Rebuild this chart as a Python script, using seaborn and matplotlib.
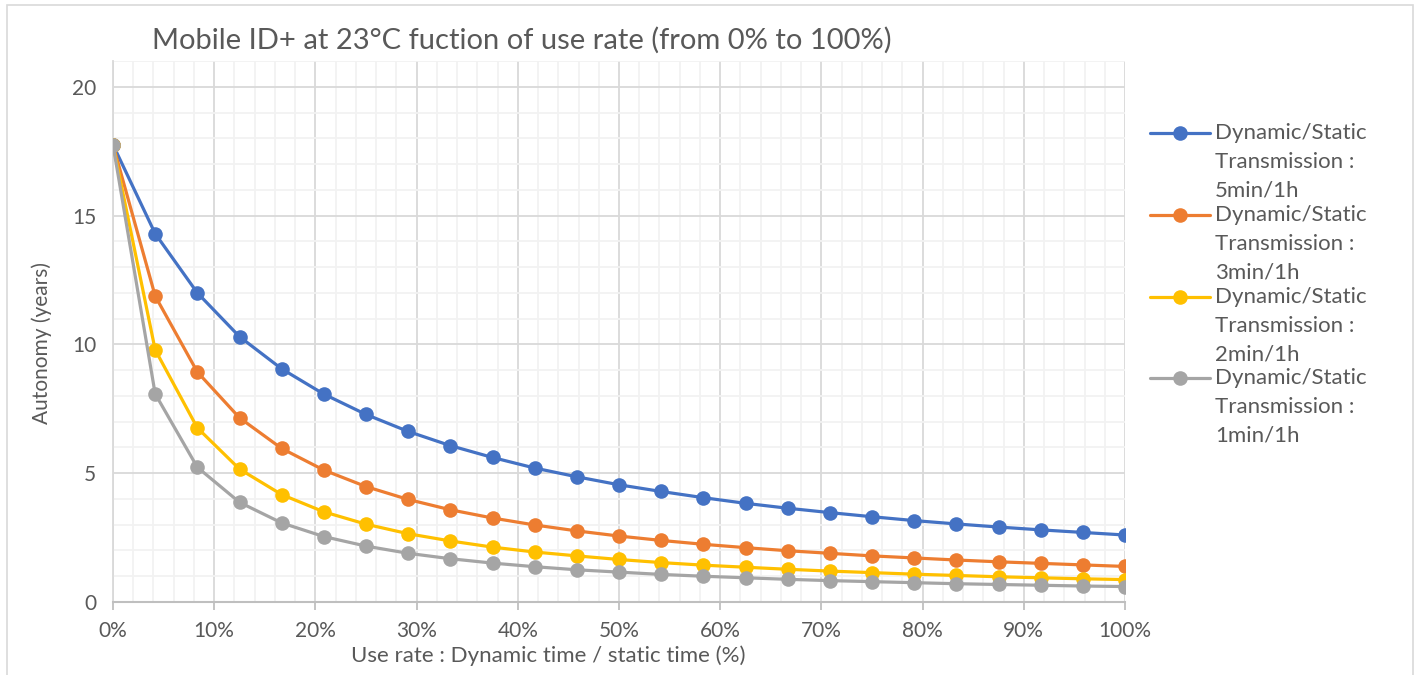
"""Mobile ID+ autonomy vs use rate, Excel-like line chart."""

import matplotlib
matplotlib.use("Agg")
import matplotlib.pyplot as plt
import numpy as np
import pandas as pd
import seaborn as sns
from matplotlib.lines import Line2D
from matplotlib.patches import Rectangle
from matplotlib.ticker import MultipleLocator, PercentFormatter

# use rate steps (1/24 of the range each)
use_rate = [i / 24 for i in range(25)]

blue_5min = [17.75, 14.3, 12.0, 10.3, 9.05, 8.07, 7.28, 6.62, 6.07, 5.61, 5.20, 4.86,
             4.55, 4.29, 4.05, 3.83, 3.64, 3.47, 3.31, 3.16, 3.03, 2.91, 2.80, 2.70, 2.60]
orange_3min = [17.75, 11.88, 8.93, 7.15, 5.96, 5.12, 4.48, 3.98, 3.58, 3.26, 2.99, 2.76,
               2.56, 2.39, 2.24, 2.11, 1.99, 1.89, 1.79, 1.71, 1.63, 1.56, 1.50, 1.44, 1.38]
yellow_2min = [17.75, 9.79, 6.76, 5.16, 4.17, 3.50, 3.02, 2.65, 2.37, 2.13, 1.94, 1.79,
               1.65, 1.53, 1.43, 1.35, 1.27, 1.20, 1.14, 1.08, 1.03, 0.98, 0.94, 0.90, 0.87]
gray_1min = [17.75, 8.08, 5.23, 3.87, 3.07, 2.54, 2.17, 1.89, 1.68, 1.51, 1.37, 1.25,
             1.16, 1.07, 1.00, 0.94, 0.88, 0.83, 0.79, 0.75, 0.71, 0.68, 0.65, 0.62, 0.60]

series_names = ["5min/1h", "3min/1h", "2min/1h", "1min/1h"]
series_values = [blue_5min, orange_3min, yellow_2min, gray_1min]
colors = ["#4472C4", "#ED7D31", "#FFC000", "#A5A5A5"]

TEXT = "#595959"

rows = []
for name, vals in zip(series_names, series_values):
    for r, v in zip(use_rate, vals):
        rows.append({"rate": r, "autonomy": v, "series": name})
df = pd.DataFrame(rows)

sns.set_theme(style="white")
plt.rcParams["font.family"] = ["Lato", "DejaVu Sans"]
plt.rcParams["text.color"] = TEXT

fig = plt.figure(figsize=(14.23, 6.75), dpi=100)
ax = fig.add_axes([113 / 1423, 73 / 675, 1012 / 1423, 541 / 675])

# outer chart border
fig.add_artist(Rectangle((7 / 1423, -0.05), 1406 / 1423, 1.05 - 5 / 675,
                         transform=fig.transFigure, fill=False,
                         edgecolor="#D9D9D9", linewidth=1.2))

sns.lineplot(data=df, x="rate", y="autonomy", hue="series", hue_order=series_names,
             palette=colors, marker="o", markersize=10.5, markeredgewidth=0,
             linewidth=2.3, legend=False, ax=ax, zorder=3)

ax.set_xlim(0, 1)
ax.set_ylim(0, 21)
ax.xaxis.set_major_locator(MultipleLocator(0.1))
ax.xaxis.set_minor_locator(MultipleLocator(0.02))
ax.xaxis.set_major_formatter(PercentFormatter(1.0, decimals=0))
ax.set_yticks([0, 5, 10, 15, 20])
ax.yaxis.set_minor_locator(MultipleLocator(1))

ax.grid(which="minor", color="#F2F2F2", linewidth=1.3, zorder=0)
ax.grid(which="major", color="#D9D9D9", linewidth=1.3, zorder=1)
ax.set_axisbelow(True)

for s in ["top", "right"]:
    ax.spines[s].set_visible(False)
ax.spines["left"].set_color("#D9D9D9")
ax.spines["left"].set_linewidth(1.3)
ax.spines["bottom"].set_color("#BFBFBF")
ax.spines["bottom"].set_linewidth(1.5)

ax.tick_params(axis="x", which="major", length=6, width=1.3, color="#BFBFBF",
               direction="out", pad=8, labelsize=15, labelcolor=TEXT, bottom=True)
ax.tick_params(axis="x", which="minor", length=0)
ax.tick_params(axis="y", which="both", length=0, pad=12, labelsize=15, labelcolor=TEXT)

ax.set_xlabel("Use rate : Dynamic time / static time (%)", fontsize=16, color=TEXT)
ax.xaxis.set_label_coords(0.43, -0.080)
ax.set_ylabel("Autonomy (years)", fontsize=15, color=TEXT)
ax.yaxis.set_label_coords(-0.060, 0.479)

fig.text(522 / 1423, 1 - 40 / 675, "Mobile ID+ at 23°C fuction of use rate (from 0% to 100%)",
         ha="center", va="center", fontsize=21, color=TEXT)

# legend drawn by hand so the marker sits on the first text line
legend_y = [133, 215, 297, 378]
for c, name, y in zip(colors, series_names, legend_y):
    yf = 1 - y / 675
    fig.add_artist(Line2D([1150 / 1423, 1210 / 1423], [yf, yf], color=c, linewidth=2.3,
                          transform=fig.transFigure))
    fig.add_artist(Line2D([1180 / 1423], [yf], color=c, marker="o", markersize=10.5,
                          markeredgewidth=0, transform=fig.transFigure))
    fig.text(1215 / 1423, yf + 10 / 675, f"Dynamic/Static\nTransmission :\n{name}",
             ha="left", va="top", fontsize=16, color=TEXT, linespacing=1.55)

fig.savefig("out.png", dpi=100)
